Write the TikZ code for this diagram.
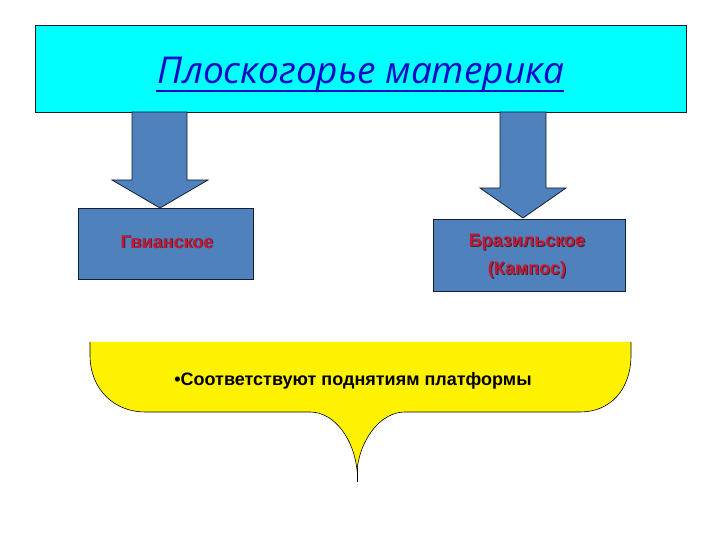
\documentclass[tikz,border=0pt]{standalone}
\usepackage{fontspec}
\setmainfont{Liberation Sans}
\newfontfamily\titlefont{Open Sans}
\definecolor{titleblue}{RGB}{10,10,200}
\definecolor{steel}{RGB}{79,129,189}
\definecolor{darkedge}{RGB}{20,30,50}
\definecolor{redlab}{RGB}{195,25,55}
\definecolor{shadowc}{RGB}{60,40,50}
\begin{document}
\begin{tikzpicture}[x=1pt,y=1pt,
  boxfill/.style={fill=steel, draw=darkedge, line width=0.8pt},
  arrowshape/.style={fill=steel, draw=darkedge, line width=0.8pt, line join=miter},
  redtext/.style={text=redlab, font=\bfseries\fontsize{18}{28}\selectfont, align=center},
  shadowtext/.style={text=shadowc, font=\bfseries\fontsize{18}{28}\selectfont, align=center}
]
\useasboundingbox (0,0) rectangle (720,540);
% top box
\node[draw=darkedge, line width=0.8pt, fill={rgb,255:red,0;green,255;blue,255}, minimum width=651pt, minimum height=87pt, anchor=north west, inner sep=0pt] (top) at (35,515) {};
\node[text=titleblue, font=\titlefont\itshape\fontsize{37}{40}\selectfont, anchor=base, inner sep=0pt] (title) at (361,456) {Плоскогорье материка};
\draw[titleblue, line width=2.2pt] ([yshift=-7pt,xshift=-2pt]title.base west) -- ([yshift=-7pt]title.base east);
% arrows
\draw[arrowshape] (132,428) -- (187,428) -- (187,360) -- (208,360) -- (160,332) -- (112,360) -- (132,360) -- cycle;
\draw[arrowshape] (500,428) -- (546,428) -- (546,352) -- (566,352) -- (523,322) -- (480,352) -- (500,352) -- cycle;
% boxes
\node[boxfill, minimum width=175pt, minimum height=71pt, anchor=north west, inner sep=0pt] (gv) at (78,332) {};
\node[shadowtext] at (167.9,297.1) {Гвианское};
\node[redtext] (gvt) at (167,298) {Гвианское};
\node[boxfill, minimum width=192pt, minimum height=72pt, anchor=north west, inner sep=0pt] (br) at (433,321) {};
\node[shadowtext] at (527.9,283.1) {Бразильское\\(Кампос)};
\node[redtext] (brt) at (527,284) {Бразильское\\(Кампос)};
% callout
\fill[yellow] (90,198) -- (90,185) .. controls (90,150) and (115,128) .. (145,128) -- (310,128)
  .. controls (335,128) and (354,100) .. (357,70) .. controls (360,100) and (380,128) .. (405,128)
  -- (580,128) .. controls (610,128) and (631,150) .. (631,185) -- (631,198) -- cycle;
\draw[line width=0.6pt] (90,198) -- (90,185) .. controls (90,150) and (115,128) .. (145,128) -- (310,128)
  .. controls (335,128) and (354,100) .. (357,70) .. controls (360,100) and (380,128) .. (405,128)
  -- (580,128) .. controls (610,128) and (631,150) .. (631,185) -- (631,198);
\draw[line width=1pt] (357,72) -- (357,58);
\node[font=\bfseries\fontsize{18}{22}\selectfont] (txt) at (353,159) {•Соответствуют поднятиям платформы};
\end{tikzpicture}
\end{document}
